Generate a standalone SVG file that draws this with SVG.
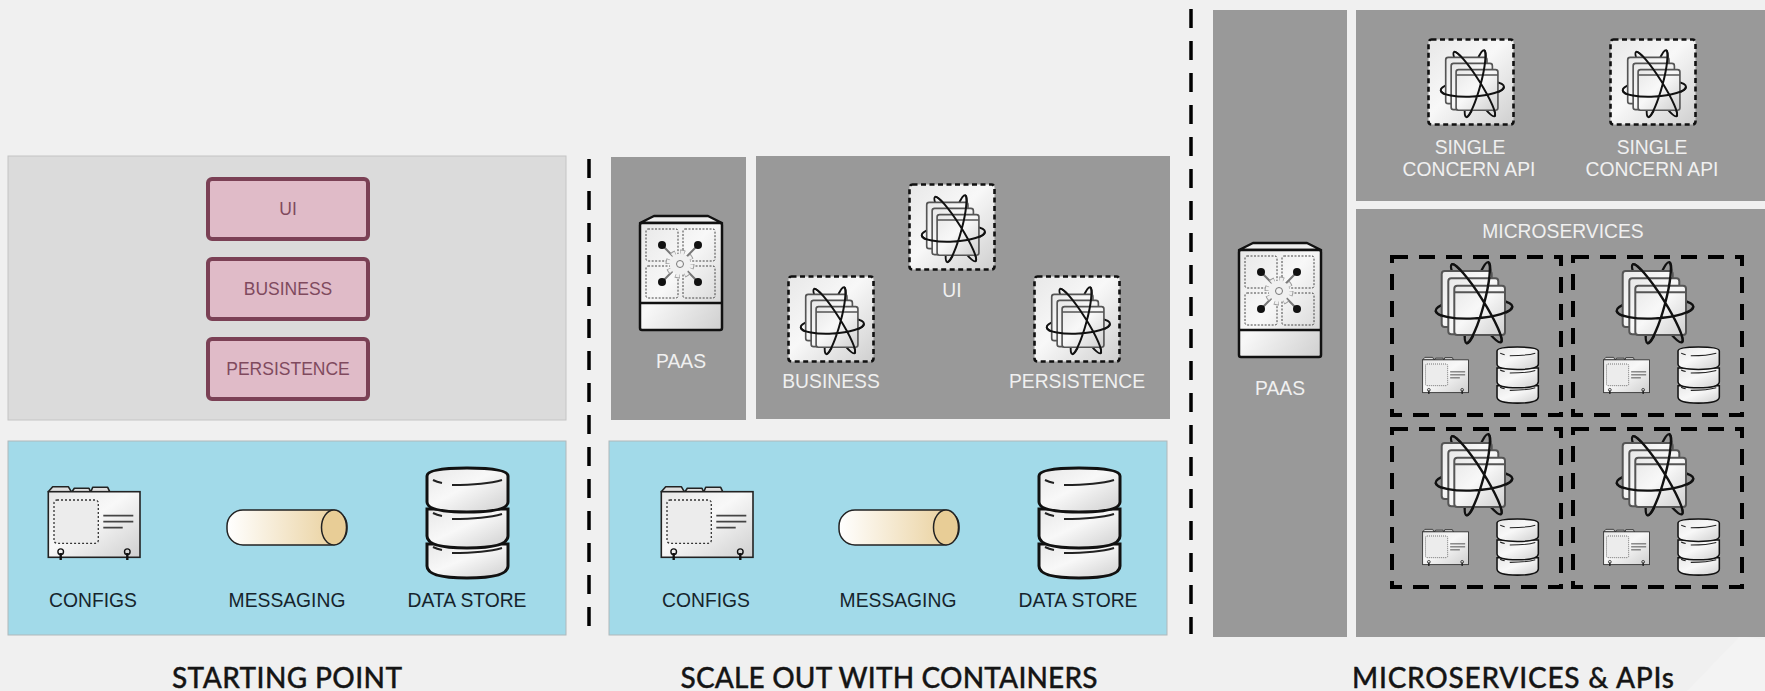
<svg xmlns="http://www.w3.org/2000/svg" width="1765" height="691" viewBox="0 0 1765 691">
<style>
.gray{fill:#999999}
.blue{fill:#a2dae9;stroke:#b0b8ba;stroke-width:1}
.lbl{font-family:"Liberation Sans",Arial,sans-serif;font-size:19.300px;text-anchor:middle}
.w{fill:#f0f0f0}
.d{fill:#16242c}
.m{fill:#7f4a5e;font-size:17.500px}
.title{font-family:"Lato","Noto Sans",sans-serif;font-size:28px;font-weight:500;text-anchor:middle;fill:#151515;stroke:#151515;stroke-width:.35px}
.pink{fill:#e0bbc8;stroke:#7b4055;stroke-width:4}
.div{stroke:#000;stroke-width:3.500;stroke-dasharray:19 13;fill:none}
.msbox{fill:none;stroke:#000;stroke-width:4;stroke-dasharray:16 11}
.win{fill:url(#metal);stroke:#555;stroke-width:2}
.orb{fill:none;stroke:#111;stroke-width:2.400}
.hl{fill:none;stroke:#222;stroke-width:2}
.dbs{fill:url(#metal);stroke:#111;stroke-width:3}
</style>
<defs>
<linearGradient id="metal" x1="0" y1="0" x2="1" y2="1"><stop offset="0" stop-color="#e8e8e8"/><stop offset=".45" stop-color="#f8f8f8"/><stop offset="1" stop-color="#cfcfcf"/></linearGradient>
<linearGradient id="tube" x1="0" y1="0" x2="1" y2="0"><stop offset="0" stop-color="#ffffff"/><stop offset="1" stop-color="#e8cd96"/></linearGradient>
<g id="stack">
<ellipse class="orb" cx="38" cy="46.800" rx="38.400" ry="10" transform="rotate(-3.200 38 46.800)"/>
<ellipse class="orb" cx="40.300" cy="41.300" rx="46" ry="7" transform="rotate(57.700 40.300 41.300)"/>
<ellipse class="orb" cx="41.500" cy="40.800" rx="42" ry="7" transform="rotate(105 41.500 40.800)"/>
<rect class="win" x="5.700" y="9" width="50" height="56" rx="3"/>
<rect class="win" x="12.300" y="16.300" width="50" height="56" rx="3"/>
<rect class="win" x="18.300" y="23.700" width="50.700" height="49.300" rx="3"/>
<path d="M18.300 30.300H69" stroke="#555" stroke-width="2"/>
<path class="orb" d="M-.3 49A38.400 10 -3.200 0 0 76.300 44.700M15.700 2.300A46 7 57.700 0 1 65 80.300M52.300 .3A42 7 105 0 1 30.700 81.300"/>
</g>
<g id="tile">
<rect x="1.500" y="1.500" width="85" height="85" rx="3" fill="url(#metal)" stroke="#111" stroke-width="2.600" stroke-dasharray="5 3.500"/>
<use href="#stack" transform="translate(14 12) scale(.825)"/>
</g>
<g id="paas">
<path d="M1 8L15 1H69L83 8Z" fill="#eee" stroke="#111" stroke-width="2.500" stroke-linejoin="round"/>
<rect x="1" y="8" width="82" height="107" rx="2" fill="url(#metal)" stroke="#111" stroke-width="2.500"/>
<path d="M1 88H83" stroke="#111" stroke-width="2.500"/>
<g fill="none" stroke="#444" stroke-width="1" stroke-dasharray="2 1.500">
<rect x="7" y="14" width="32" height="32" rx="2"/><rect x="44" y="14" width="32" height="32" rx="2"/>
<rect x="7" y="51" width="32" height="32" rx="2"/><rect x="44" y="51" width="32" height="32" rx="2"/>
</g>
<path d="M23 30L59 67M59 30L23 67" stroke="#777" stroke-width="2"/>
<circle cx="41" cy="49" r="11" fill="none" stroke="#999" stroke-width="7" stroke-dasharray="4.300 4.300"/>
<circle cx="41" cy="49" r="11" fill="none" stroke="#f0f0f0" stroke-width="5" stroke-dasharray="3.300 5.300" stroke-dashoffset="-.5"/>
<circle cx="41" cy="49" r="10.500" fill="#f0f0f0"/>
<circle cx="41" cy="49" r="3.500" fill="#f2f2f2" stroke="#777" stroke-width="1"/>
<circle cx="23" cy="30" r="4" fill="#111"/><circle cx="59" cy="30" r="4" fill="#111"/>
<circle cx="23" cy="67" r="4" fill="#111"/><circle cx="59" cy="67" r="4" fill="#111"/>
</g>
<g id="config">
<path d="M1.300 5.700L5.700 .7H21.300L24.700 6.300L27.300 2.300H42L43.700 6.300L45.700 1.300H60.700L63 6.300Z" fill="#ddd" stroke="#222" stroke-width="1.600" stroke-linejoin="round"/>
<rect x="1.300" y="5.700" width="91.700" height="65.600" fill="url(#metal)" stroke="#222" stroke-width="1.600"/>
<rect x="7" y="14" width="44.300" height="43.300" rx="3" fill="#ececec" stroke="#333" stroke-width="1.300" stroke-dasharray="2 2"/>
<path d="M56.300 29.700H86.300M56.300 35.700H86.300M56.300 41.700H75.700" stroke="#444" stroke-width="1.800"/>
<g fill="none" stroke="#111"><circle cx="13.700" cy="65.700" r="2.800" stroke-width="1.400"/><path d="M13.700 67V74" stroke-width="2.400"/><circle cx="80.300" cy="65.700" r="2.800" stroke-width="1.400"/><path d="M80.300 67V74" stroke-width="2.400"/></g>
</g>
<g id="tubeicon">
<rect x="1" y="1" width="120" height="35" rx="16" fill="url(#tube)" stroke="#222" stroke-width="1.500"/>
<ellipse cx="108" cy="18.500" rx="12.500" ry="17.500" fill="#e8cd96" stroke="#222" stroke-width="1.500"/>
</g>
<g id="db">
<path class="dbs" d="M2 78V100Q2 112 42 112Q83 112 83 100V78Z"/>
<path class="dbs" d="M2 43V70Q2 82 42 82Q83 82 83 70V43Z"/>
<path class="dbs" d="M2 10Q2 2 42 2Q83 2 83 10V36Q83 46 42 46Q2 46 2 36Z"/>
<path class="hl" d="M8 14Q12 16 17 17M27 19Q60 19 77 14M8 47Q12 49 17 50M27 53Q60 53 77 48M8 81Q12 83 17 84M27 87Q60 87 77 82"/>
</g>
</defs>
<rect id="background" width="1765" height="691" fill="#f0f0f0"/>
<path d="M1740 636L1687 691H1765V640Z" fill="#f3f3f3"/>

<g id="dividers">
<path class="div" d="M589 159V632"/>
<path class="div" d="M1191 9V634"/>
</g>

<g id="starting-point">
<rect id="app-panel" x="8" y="156" width="558" height="264" fill="#dbdbdb" stroke="#c4c4c4"/>
<g id="ui"><rect class="pink" x="208" y="179" width="160" height="60" rx="4"/><text class="lbl m" x="288" y="214.500">UI</text></g>
<g id="business"><rect class="pink" x="208" y="259" width="160" height="60" rx="4"/><text class="lbl m" x="288" y="294.500">BUSINESS</text></g>
<g id="persistence"><rect class="pink" x="208" y="339" width="160" height="60" rx="4"/><text class="lbl m" x="288" y="374.500">PERSISTENCE</text></g>
<rect id="services-1" class="blue" x="8" y="441" width="558" height="194"/>
<g id="configs-1"><use href="#config" x="47" y="486"/><text class="lbl d" x="93" y="607">CONFIGS</text></g>
<g id="messaging-1"><use href="#tubeicon" x="226" y="509"/><text class="lbl d" x="287" y="607">MESSAGING</text></g>
<g id="datastore-1"><use href="#db" x="425" y="466"/><text class="lbl d" x="467" y="607">DATA STORE</text></g>
<text class="title" x="287" y="688" textLength="230">STARTING POINT</text>
</g>

<g id="scale-out">
<rect class="gray" x="611" y="157" width="135" height="263"/>
<g id="paas-2"><use href="#paas" x="639" y="215"/><text class="lbl w" x="681" y="368">PAAS</text></g>
<rect class="gray" x="756" y="156" width="414" height="263"/>
<g id="ui-2"><use href="#tile" x="908" y="183"/><text class="lbl w" x="952" y="297">UI</text></g>
<g id="business-2"><use href="#tile" x="787" y="275"/><text class="lbl w" x="831" y="388">BUSINESS</text></g>
<g id="persistence-2"><use href="#tile" x="1033" y="275"/><text class="lbl w" x="1077" y="388">PERSISTENCE</text></g>
<rect id="services-2" class="blue" x="609" y="441" width="558" height="194"/>
<g id="configs-2"><use href="#config" x="660" y="486"/><text class="lbl d" x="706" y="607">CONFIGS</text></g>
<g id="messaging-2"><use href="#tubeicon" x="838" y="509"/><text class="lbl d" x="898" y="607">MESSAGING</text></g>
<g id="datastore-2"><use href="#db" x="1037" y="466"/><text class="lbl d" x="1078" y="607">DATA STORE</text></g>
<text class="title" x="889" y="688" textLength="417">SCALE OUT WITH CONTAINERS</text>
</g>

<g id="microservices-apis">
<rect class="gray" x="1213" y="10" width="134" height="627"/>
<g id="paas-3"><use href="#paas" x="1238" y="242"/><text class="lbl w" x="1280" y="395">PAAS</text></g>
<rect class="gray" x="1356" y="10" width="409" height="191"/>
<g id="api-1"><use href="#tile" x="1427" y="38"/><text class="lbl w" x="1470" y="154">SINGLE</text><text class="lbl w" x="1469" y="176">CONCERN API</text></g>
<g id="api-2"><use href="#tile" x="1609" y="38"/><text class="lbl w" x="1652" y="154">SINGLE</text><text class="lbl w" x="1652" y="176">CONCERN API</text></g>
<rect class="gray" x="1356" y="209" width="409" height="428"/>
<text class="lbl w" x="1563" y="238">MICROSERVICES</text>
<g id="ms-1"><rect class="msbox" x="1392" y="257" width="169" height="158"/><use href="#stack" x="1436" y="262"/><use href="#config" transform="translate(1422 357) scale(.5)"/><use href="#db" transform="translate(1496 346) scale(.51)"/></g>
<g id="ms-2"><rect class="msbox" x="1573" y="257" width="169" height="158"/><use href="#stack" x="1617" y="262"/><use href="#config" transform="translate(1603 357) scale(.5)"/><use href="#db" transform="translate(1677 346) scale(.51)"/></g>
<g id="ms-3"><rect class="msbox" x="1392" y="429" width="169" height="158"/><use href="#stack" x="1436" y="434"/><use href="#config" transform="translate(1422 529) scale(.5)"/><use href="#db" transform="translate(1496 518) scale(.51)"/></g>
<g id="ms-4"><rect class="msbox" x="1573" y="429" width="169" height="158"/><use href="#stack" x="1617" y="434"/><use href="#config" transform="translate(1603 529) scale(.5)"/><use href="#db" transform="translate(1677 518) scale(.51)"/></g>
<text class="title" x="1513" y="688" textLength="322">MICROSERVICES &amp; APIs</text>
</g>
</svg>
